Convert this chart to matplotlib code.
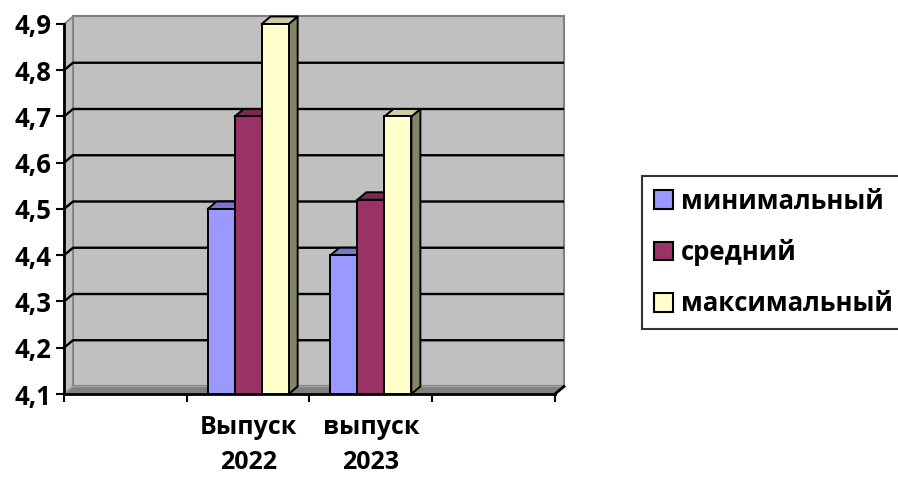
import matplotlib
matplotlib.use('Agg')
import matplotlib.pyplot as plt
from matplotlib.patches import Polygon, Rectangle, Patch

# ---- data ----
categories = ['Выпуск\n2022', 'выпуск\n2023']
series_names = ['минимальный', 'средний', 'максимальный']
minimal = [4.5, 4.4]
average = [4.7, 4.52]
maximal = [4.9, 4.7]
y_ticks = [4.1, 4.2, 4.3, 4.4, 4.5, 4.6, 4.7, 4.8, 4.9]
y_labels = ['4,1', '4,2', '4,3', '4,4', '4,5', '4,6', '4,7', '4,8', '4,9']

series = [minimal, average, maximal]
front_colors = ['#9999FF', '#993366', '#FFFFCC']
top_colors = ['#7777CC', '#7A2952', '#CCCCA3']
side_colors = ['#7373BF', '#73264D', '#858566']

plt.rcParams['font.family'] = ['Open Sans', 'DejaVu Sans']
plt.rcParams['font.weight'] = 'bold'

fig = plt.figure(figsize=(8.98, 4.82), dpi=100)
ax = fig.add_axes([64 / 898, 88 / 482, 491 / 898, 370 / 482])
ax.set_xlim(0, 4)
ax.set_ylim(4.1, 4.9)
ax.set_facecolor('none')

ymin, ymax = 4.1, 4.9
xmax = 4
dx = 9 / 122.75      # depth in data units (x)
dy = 7.5 / 462.5     # depth in data units (y)

# walls and floor
ax.add_patch(Rectangle((dx, ymin + dy), xmax, ymax - ymin, fc='#C0C0C0',
                       ec='#808080', lw=1.5, zorder=0, clip_on=False))
ax.add_patch(Polygon([(0, ymin), (dx, ymin + dy), (dx, ymax + dy), (0, ymax)],
                     closed=True, fc='#C0C0C0', ec='#808080', lw=1.2,
                     zorder=0.5, clip_on=False))
ax.add_patch(Polygon([(0, ymin), (xmax, ymin), (xmax + dx, ymin + dy), (dx, ymin + dy)],
                     closed=True, fc='#808080', ec='#A0A0A0', lw=1.0,
                     zorder=0.6, clip_on=False))

# gridlines
for yv in y_ticks[1:-1]:
    ax.plot([0, dx, xmax + dx], [yv, yv + dy, yv + dy], color='black', lw=1.7,
            zorder=1, clip_on=False, solid_capstyle='butt')

# bars
w = 0.22
for ci in range(len(categories)):
    center = ci + 1.5
    for j, vals in enumerate(series):
        h = vals[ci]
        x0 = center + (j - 1.5) * w
        x1 = x0 + w
        z = 3 + 3 * j
        ax.add_patch(Polygon([(x1, ymin), (x1 + dx, ymin + dy), (x1 + dx, h + dy), (x1, h)],
                             closed=True, fc=side_colors[j], ec='black', lw=1.4,
                             zorder=z, clip_on=False, joinstyle='round'))
        ax.add_patch(Polygon([(x0, h), (x1, h), (x1 + dx, h + dy), (x0 + dx, h + dy)],
                             closed=True, fc=top_colors[j], ec='black', lw=1.4,
                             zorder=z, clip_on=False, joinstyle='round'))
        ax.bar(x0, h - ymin, width=w, bottom=ymin, align='edge', color=front_colors[j],
               edgecolor='black', lw=1.4, zorder=z + 1, clip_on=False)

# right end diagonal of floor
ax.plot([xmax, xmax + dx], [ymin, ymin + dy], color='black', lw=2, zorder=2,
        clip_on=False)

# axes
for s in ['top', 'right']:
    ax.spines[s].set_visible(False)
for s in ['left', 'bottom']:
    ax.spines[s].set_linewidth(2)
    ax.spines[s].set_zorder(2.5)
ax.set_yticks(y_ticks)
ax.set_yticklabels(y_labels)
ax.set_xticks([0, 1, 2, 3, 4])
ax.set_xticklabels([])
ax.set_xticks([1.5, 2.5], minor=True)
ax.set_xticklabels(categories, minor=True, linespacing=1.55)
ax.tick_params(axis='y', direction='out', length=6, width=1.5, pad=3, labelsize=18.5)
ax.tick_params(axis='x', which='major', direction='out', length=6, width=1.5)
ax.tick_params(axis='x', which='minor', length=0, pad=15, labelsize=18)

# legend
handles = [Patch(fc=c, ec='black', lw=1.5) for c in front_colors]
leg = fig.legend(handles, series_names, loc='upper left',
                 bbox_to_anchor=(642 / 898, 1 - 176 / 482), fontsize=18.5,
                 frameon=True, fancybox=False, edgecolor='black',
                 handlelength=0.75, handleheight=0.75, handletextpad=0.3,
                 labelspacing=0.95, borderpad=0.45, borderaxespad=0)
leg.get_frame().set_linewidth(1.5)

fig.savefig('out.png', dpi=100, facecolor='white')
